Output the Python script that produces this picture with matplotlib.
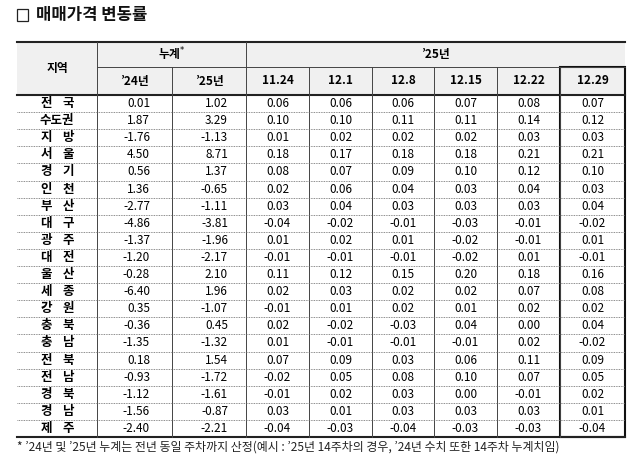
import matplotlib
matplotlib.use("Agg")
import matplotlib.pyplot as plt

plt.rcParams['font.family'] = ['Noto Sans CJK KR', 'DejaVu Sans']

regions = ["전국","수도권","지방","서울","경기","인천","부산","대구","광주","대전",
           "울산","세종","강원","충북","충남","전북","전남","경북","경남","제주"]
cum24 = ["0.01","1.87","-1.76","4.50","0.56","1.36","-2.77","-4.86","-1.37","-1.20",
         "-0.28","-6.40","0.35","-0.36","-1.35","0.18","-0.93","-1.12","-1.56","-2.40"]
cum25 = ["1.02","3.29","-1.13","8.71","1.37","-0.65","-1.11","-3.81","-1.96","-2.17",
         "2.10","1.96","-1.07","0.45","-1.32","1.54","-1.72","-1.61","-0.87","-2.21"]
weeks = ["11.24","12.1","12.8","12.15","12.22","12.29"]
weekly = [
 ["0.06","0.06","0.06","0.07","0.08","0.07"],
 ["0.10","0.10","0.11","0.11","0.14","0.12"],
 ["0.01","0.02","0.02","0.02","0.03","0.03"],
 ["0.18","0.17","0.18","0.18","0.21","0.21"],
 ["0.08","0.07","0.09","0.10","0.12","0.10"],
 ["0.02","0.06","0.04","0.03","0.04","0.03"],
 ["0.03","0.04","0.03","0.03","0.03","0.04"],
 ["-0.04","-0.02","-0.01","-0.03","-0.01","-0.02"],
 ["0.01","0.02","0.01","-0.02","-0.01","0.01"],
 ["-0.01","-0.01","-0.01","-0.02","0.01","-0.01"],
 ["0.11","0.12","0.15","0.20","0.18","0.16"],
 ["0.02","0.03","0.02","0.02","0.07","0.08"],
 ["-0.01","0.01","0.02","0.01","0.02","0.02"],
 ["0.02","-0.02","-0.03","0.04","0.00","0.04"],
 ["0.01","-0.01","-0.01","-0.01","0.02","-0.02"],
 ["0.07","0.09","0.03","0.06","0.11","0.09"],
 ["-0.02","0.05","0.08","0.10","0.07","0.05"],
 ["-0.01","0.02","0.03","0.00","-0.01","0.02"],
 ["0.03","0.01","0.03","0.03","0.03","0.01"],
 ["-0.04","-0.03","-0.04","-0.03","-0.03","-0.04"],
]

fig = plt.figure(figsize=(6.4, 4.55), dpi=100)
ax = fig.add_axes([0, 0, 1, 1])
ax.set_xlim(0, 640); ax.set_ylim(455, 0); ax.axis('off')

cols = [17, 97, 172, 246, 309, 372, 434, 497, 560, 625]
top, mid, hb = 42, 67, 95
rh = (437 - hb) / len(regions)
bot = hb + rh * len(regions)
fs = 8.5

# title
ax.add_patch(plt.Rectangle((17, 9), 11, 12, fill=False, lw=0.9, ec='#222'))
ax.text(36, 15, "매매가격 변동률", fontsize=12, fontweight='bold', va='center', color='#111')

ax.add_patch(plt.Rectangle((cols[0], top), cols[-1]-cols[0], hb-top, fc='#f0f0f0', ec='none'))

ax.text((cols[0]+cols[1])/2, (top+hb)/2, "지역", ha='center', va='center', fontsize=fs, fontweight='bold')
ax.text((cols[1]+cols[3])/2, (top+mid)/2, "누계$^{*}$", ha='center', va='center', fontsize=fs, fontweight='bold')
ax.text((cols[3]+cols[-1])/2, (top+mid)/2, "’25년", ha='center', va='center', fontsize=fs, fontweight='bold')
ax.text((cols[1]+cols[2])/2, (mid+hb)/2, "’24년", ha='center', va='center', fontsize=fs, fontweight='bold')
ax.text((cols[2]+cols[3])/2, (mid+hb)/2, "’25년", ha='center', va='center', fontsize=fs, fontweight='bold')
for j, w in enumerate(weeks):
    ax.text((cols[3+j]+cols[4+j])/2, (mid+hb)/2, w, ha='center', va='center', fontsize=fs, fontweight='bold')

ax.plot([cols[0], cols[-1]], [top, top], color='#222', lw=1.5)
ax.plot([cols[1], cols[-1]], [mid, mid], color='#444', lw=0.7)
ax.plot([cols[0], cols[-1]], [hb, hb], color='#222', lw=1.5)
ax.plot([cols[0], cols[-1]], [bot, bot], color='#222', lw=1.5)
for i, x in enumerate(cols[1:-1], start=1):
    y0 = top if i in (1, 3) else mid
    ax.plot([x, x], [y0, bot], color='#444', lw=0.7)
for i in range(1, len(regions)):
    y = hb + i*rh
    ax.plot([cols[0], cols[-1]], [y, y], color='#666', lw=0.6, ls=(0, (1, 1)))
ax.add_patch(plt.Rectangle((cols[-2], mid), cols[-1]-cols[-2], bot-mid, fill=False, ec='#111', lw=1.5))

cx = (cols[0]+cols[1])/2
for i, r in enumerate(regions):
    yc = hb + (i+0.5)*rh
    if len(r) == 2:
        ax.text(cx-11, yc, r[0], ha='center', va='center', fontsize=fs+0.5, fontweight='bold')
        ax.text(cx+11, yc, r[1], ha='center', va='center', fontsize=fs+0.5, fontweight='bold')
    else:
        ax.text(cx, yc, r, ha='center', va='center', fontsize=fs+0.5, fontweight='bold')
    ax.text(cols[2]-22, yc, cum24[i], ha='right', va='center', fontsize=fs)
    ax.text(cols[3]-18, yc, cum25[i], ha='right', va='center', fontsize=fs)
    for j in range(6):
        ax.text((cols[3+j]+cols[4+j])/2, yc, weekly[i][j], ha='center', va='center', fontsize=fs)

ax.text(17, 447, "* ’24년 및 ’25년 누계는 전년 동일 주차까지 산정(예시 : ’25년 14주차의 경우, ’24년 수치 또한 14주차 누계치임)",
        fontsize=8.6, va='center', color='#222')

fig.savefig("out.png", dpi=100)
